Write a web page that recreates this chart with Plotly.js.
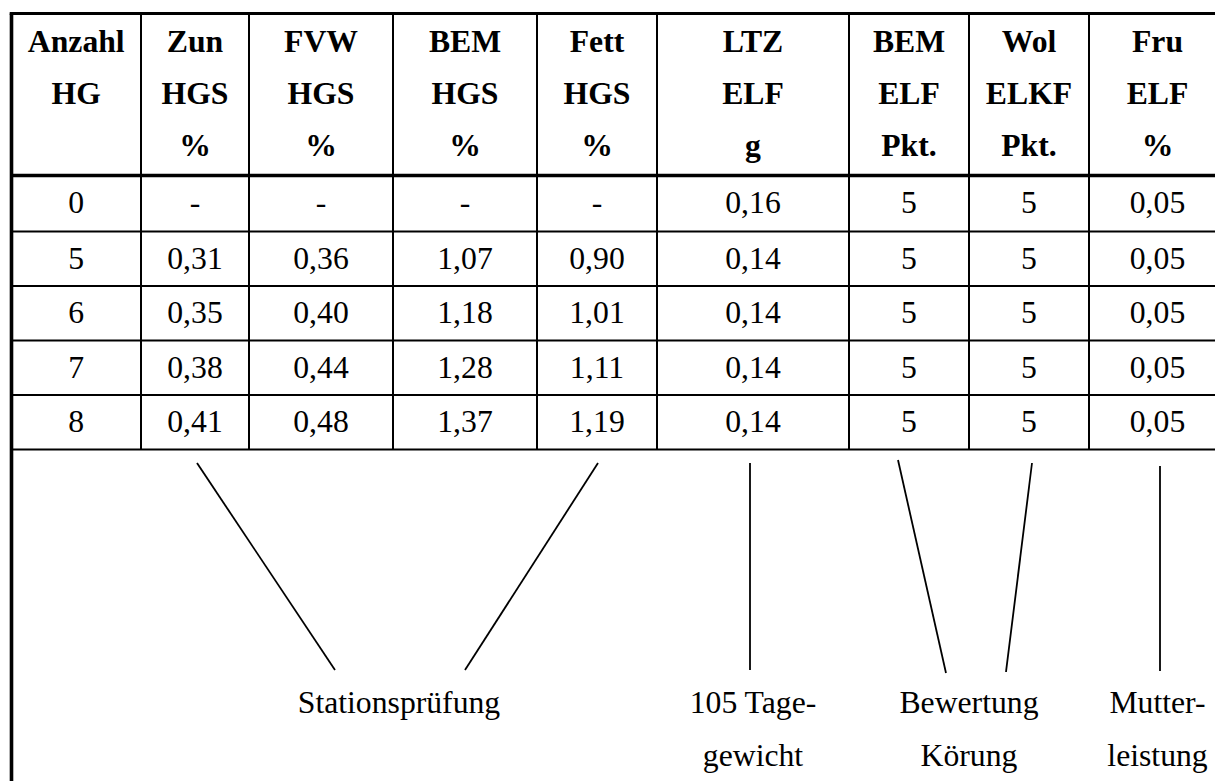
<!DOCTYPE html>
<html><head><meta charset="utf-8">
<script src="https://cdn.plot.ly/plotly-3.0.1.min.js"></script>
<style>html,body{margin:0;padding:0;background:#fff;}#chart{width:1215px;height:781px;}</style>
</head><body><div id="chart"></div>
<script>
// ---- data ----
const headerLine1 = ["Anzahl","Zun","FVW","BEM","Fett","LTZ","BEM","Wol","Fru"];
const headerLine2 = ["HG","HGS","HGS","HGS","HGS","ELF","ELF","ELKF","ELF"];
const headerUnits = ["","%","%","%","%","g","Pkt.","Pkt.","%"];
const anzahlHG = [0,5,6,7,8];
const zunHGS  = [null,0.31,0.35,0.38,0.41];
const fvwHGS  = [null,0.36,0.40,0.44,0.48];
const bemHGS  = [null,1.07,1.18,1.28,1.37];
const fettHGS = [null,0.90,1.01,1.11,1.19];
const ltzELF  = [0.16,0.14,0.14,0.14,0.14];
const bemELF  = [5,5,5,5,5];
const wolELKF = [5,5,5,5,5];
const fruELF  = [0.05,0.05,0.05,0.05,0.05];
const groupLine1 = ["Stationsprüfung","105 Tage-","Bewertung","Mutter-"];
const groupLine2 = ["","gewicht","Körung","leistung"];

// ---- layout geometry (not data) ----
const colEdges = [11.5,141,249,393,537,657,849,969,1089,1226];
const rowEdges = [13.5,175.5,231.5,286,340.5,395,449.5];
const W = 1215, H = 781;
const FS = 31.7;
const SHIFT = 2; // small vertical text nudge
const FONT = "Liberation Serif, Times New Roman, serif";

const columns = [
  {v: anzahlHG, dec: false}, {v: zunHGS, dec: true}, {v: fvwHGS, dec: true},
  {v: bemHGS, dec: true}, {v: fettHGS, dec: true}, {v: ltzELF, dec: true},
  {v: bemELF, dec: false}, {v: wolELKF, dec: false}, {v: fruELF, dec: true}
];
const fmt = (v, dec) => v === null ? "-" : (dec ? v.toFixed(2).replace(".", ",") : String(v));
const colCenter = i => (colEdges[i] + colEdges[i+1]) / 2;
const bodyRowCenter = r => (rowEdges[r+1] + rowEdges[r+2]) / 2 + SHIFT;
const headerMid = (rowEdges[0] + rowEdges[1]) / 2 + SHIFT;
const headerGap = 52;

const traces = [];
const tf = {family: FONT, size: FS, color: "#000"};
const base = {type: "scatter", mode: "text", hoverinfo: "skip", showlegend: false, cliponaxis: false, textposition: "middle center", textfont: tf};

[headerLine1, headerLine2, headerUnits].forEach((line, k) => {
  traces.push(Object.assign({}, base, {
    x: line.map((_, i) => colCenter(i)),
    y: line.map(() => headerMid + (k - 1) * headerGap),
    text: line.map(t => t ? "<b>" + t + "</b>" : "")
  }));
});

columns.forEach((col, i) => {
  traces.push(Object.assign({}, base, {
    x: col.v.map(() => colCenter(i)),
    y: col.v.map((_, r) => bodyRowCenter(r)),
    text: col.v.map(v => fmt(v, col.dec))
  }));
});

const groupX = [(colEdges[1] + colEdges[5]) / 2, colCenter(5), colEdges[7], colCenter(8)];
const groupY = [703 + SHIFT, 756 + SHIFT];
[groupLine1, groupLine2].forEach((line, k) => {
  traces.push(Object.assign({}, base, {
    x: groupX, y: groupX.map(() => groupY[k]), text: line
  }));
});

// ---- grid shapes ----
const shapes = [];
const ln = (x0, y0, x1, y1, w) => shapes.push({type: "line", xref: "x", yref: "y", x0, y0, x1, y1, line: {color: "#000", width: w}});
const tableBottom = rowEdges[rowEdges.length - 1];
ln(colEdges[0] - 1.8, rowEdges[0], W + 5, rowEdges[0], 3);
ln(colEdges[0], rowEdges[0], colEdges[0], H + 5, 3.6);
ln(colEdges[0], rowEdges[1], W + 5, rowEdges[1], 3.4);
for (let r = 2; r < rowEdges.length; r++) ln(colEdges[0], rowEdges[r], W + 5, rowEdges[r], 2);
for (let c = 1; c < colEdges.length - 1; c++) ln(colEdges[c], rowEdges[0], colEdges[c], tableBottom, 2);

// connector lines from columns to group labels
const connectors = [
  [197, 463, 335, 670], [598, 463, 465, 670], [750, 463, 750, 670],
  [898, 460, 946, 673], [1032, 463, 1006, 672], [1160, 466, 1160, 671]
];
connectors.forEach(c => ln(c[0], c[1], c[2], c[3], 1.8));

const layout = {
  width: W, height: H,
  margin: {l: 0, r: 0, t: 0, b: 0, pad: 0},
  paper_bgcolor: "#fff", plot_bgcolor: "#fff",
  xaxis: {range: [0, W], visible: false, fixedrange: true},
  yaxis: {range: [H, 0], visible: false, fixedrange: true},
  shapes: shapes,
  showlegend: false
};
Plotly.newPlot("chart", traces, layout, {displayModeBar: false, staticPlot: true});
</script>
</body></html>
